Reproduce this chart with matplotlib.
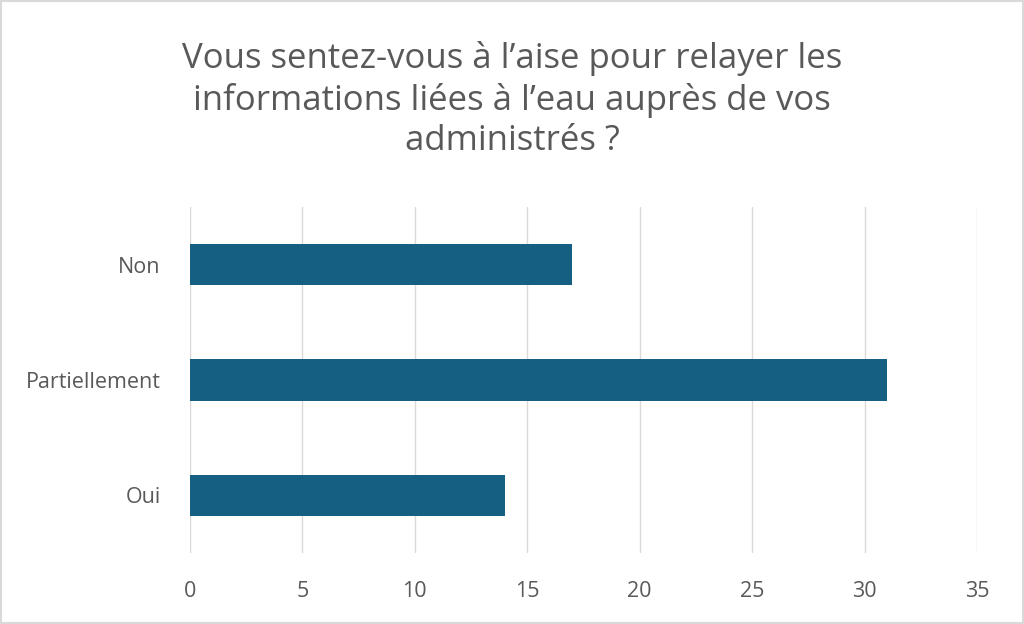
import matplotlib.pyplot as plt
from matplotlib.patches import Rectangle

categories = ['Oui', 'Partiellement', 'Non']
values = [14, 31, 17]
xticks = [0, 5, 10, 15, 20, 25, 30, 35]

plt.rcParams['font.family'] = ['Open Sans', 'DejaVu Sans']

fig = plt.figure(figsize=(10.24, 6.24), dpi=100)
ax = fig.add_axes([0.1855, 0.1138, 0.7686, 0.5545])

ax.barh(categories, values, height=0.36, color='#156082', zorder=3)
ax.set_xlim(0, 35)
ax.set_ylim(-0.5, 2.5)
ax.set_xticks(xticks)
ax.grid(axis='x', color='#d9d9d9', linewidth=1, zorder=0)
for s in ax.spines.values():
    s.set_visible(False)
ax.tick_params(axis='both', length=0, labelsize=15.5, colors='#595959')
ax.tick_params(axis='x', pad=20)
ax.tick_params(axis='y', pad=21)

fig.text(0.5, 0.84, "Vous sentez-vous à l’aise pour relayer les\ninformations liées à l’eau auprès de vos\nadministrés ?",
         ha='center', va='center', fontsize=25, color='#595959', linespacing=1.25)

fig.patches.append(Rectangle((0.001, 0.001), 0.998, 0.997, transform=fig.transFigure,
                             fill=False, edgecolor='#d9d9d9', linewidth=1.5))

fig.savefig('out.png', dpi=100)
